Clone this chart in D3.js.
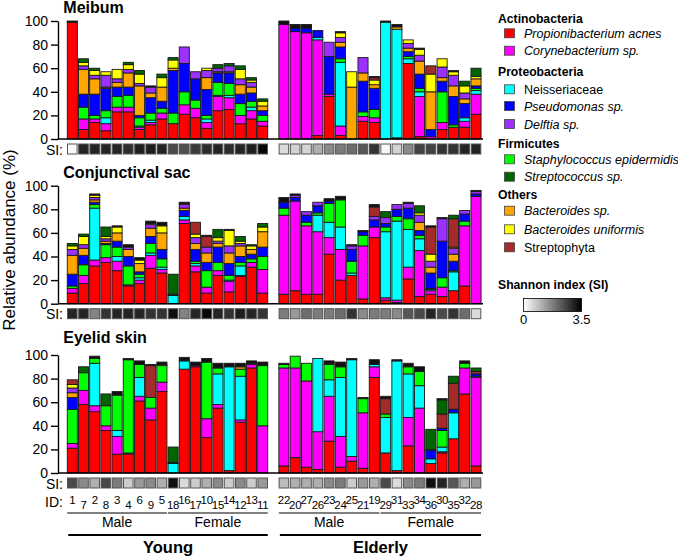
<!DOCTYPE html>
<html><head><meta charset="utf-8">
<script src="https://cdn.jsdelivr.net/npm/d3@7"></script>
<style>body{margin:0;background:#fff}svg{display:block;font-family:Arial,"Liberation Sans",sans-serif}</style>
</head><body><svg id="c" width="678" height="558"></svg>
<script>
// ---------- categories ----------
const youngIDs = ["1","7","2","8","3","4","6","9","5","18","16","17","10","15","14","12","13","11"];
const elderIDs = ["22","20","27","26","23","24","25","21","19","29","31","33","34","36","30","35","32","28"];
const sexLabels = ["Male","Female"];
const ageLabels = ["Young","Elderly"];
const panelNames = ["Meibum","Conjunctival sac","Eyelid skin"];
const yTicks = [0,20,40,60,80,100];
const siTicks = ["0","3.5"];

// stack order (bottom -> top)
const speciesKeys = ["pa","cory","neis","staph","pseudo","bact","delf","bunif","streptophyta","strep","other"];
const speciesColors = {pa:"#ff0000",cory:"#ff00ff",neis:"#00ffff",pseudo:"#0000ff",delf:"#9b30ff",staph:"#00ff00",strep:"#006400",bact:"#ffa500",bunif:"#ffff00",streptophyta:"#a52a2a",other:"#111111"};

// legend
const legendPhyla = ["Actinobacteria","Proteobacteria","Firmicutes","Others"];
const legendTaxa = [["pa","cory"],["neis","pseudo","delf"],["staph","strep"],["bact","bunif","streptophyta"]];
const taxonNames = {pa:"Propionibacterium acnes",cory:"Corynebacterium sp.",neis:"Neisseriaceae",pseudo:"Pseudomonas sp.",delf:"Delftia sp.",staph:"Staphylococcus epidermidis",strep:"Streptococcus sp.",bact:"Bacteroides sp.",bunif:"Bacteroides uniformis",streptophyta:"Streptophyta"};
const taxonItalic = {pa:true,cory:true,neis:false,pseudo:true,delf:true,staph:true,strep:true,bact:true,bunif:true,streptophyta:false};

// ---------- Meibum (young 18, elderly 18) ----------
const meibum_pa    = [99,8,14,7,23,23,8,12,17,13,21,18,9,24,25,13,17,11, 0,0,0,3,36,3,0,15,14,0,1,64,2,0,8,10,10,21];
const meibum_cory  = [0,9,3,6,4,4,2,2,5,0,8,8,5,12,10,7,7,4, 97,91,90,81,2,8,0,4,4,0,0,0,34,2,6,0,5,17];
const meibum_neis  = [0,0,0,5,0,0,1,2,0,0,0,0,3,1,2,0,3,0, 0,0,0,2,0,54,0,0,0,99,92,4,4,0,0,0,3,3];
const meibum_staph = [0,10,3,6,9,10,7,6,4,9,11,7,3,11,10,10,5,5, 0,0,0,0,0,3,0,4,7,0,0,2,3,0,26,2,0,2];
const meibum_pseudo= [0,11,18,19,8,7,2,13,6,36,24,18,22,8,9,8,7,4, 0,3,4,6,32,10,0,26,18,0,0,4,12,6,9,24,12,2];
const meibum_bact  = [0,21,13,1,4,12,25,4,12,2,0,0,10,1,1,8,5,4, 0,0,0,0,0,4,44,7,3,0,2,3,11,32,3,9,4,6];
const meibum_delf  = [0,3,3,10,3,3,2,5,0,0,14,6,6,3,5,5,4,0, 0,0,0,0,12,4,0,13,0,0,0,4,5,0,9,9,5,0];
const meibum_bunif = [0,3,4,3,8,4,8,0,8,7,0,0,2,0,0,8,2,4, 0,0,0,0,0,4,13,0,4,0,0,3,5,15,7,3,6,2];
const meibum_streptophyta = [0,0,0,0,0,0,0,0,0,0,0,0,0,0,0,0,0,0, 0,0,0,0,0,0,0,0,2,0,0,0,0,7,0,0,0,0];
const meibum_strep = [0,3,2,0,0,2,3,0,3,2,0,0,0,3,2,3,2,2, 0,0,0,0,0,0,0,0,0,0,0,0,0,0,0,0,4,7];
const meibum_other = [1,0,0,0,0,0,0,1,0,0,0,0,0,0,0,0,0,0, 3,3,3,0,0,1,0,0,1,1,2,0,1,0,0,1,0,0];
const meibum_SI    = [0.1,3.0,3.0,3.0,3.0,2.9,3.1,3.1,3.0,2.5,2.4,2.7,2.9,3.0,2.9,3.0,3.1,3.4, 0.5,0.6,0.6,1.1,1.6,1.8,2.0,2.3,2.8,0.1,0.6,1.6,2.6,2.6,2.8,2.8,3.0,3.0];

// ---------- Conjunctival sac ----------
const conj_pa    = [9,17,32,35,28,15,17,30,26,0,68,27,9,24,10,23,31,9, 8,11,8,8,42,20,24,4,56,3,1,21,6,8,6,11,15,0];
const conj_cory  = [4,7,5,4,8,1,3,11,3,0,3,5,5,4,9,1,4,20, 67,76,58,53,14,26,0,45,9,2,2,10,39,3,8,0,51,91];
const conj_neis  = [0,0,44,0,4,0,2,2,2,7,3,2,0,0,1,8,0,0, 0,0,0,14,13,19,2,0,0,56,67,32,10,1,0,16,0,0];
const conj_staph = [2,9,3,11,8,16,3,8,7,0,0,2,14,7,4,3,3,11, 6,0,3,2,16,23,10,9,0,4,4,9,3,1,8,1,4,0];
const conj_pseudo= [10,8,2,1,5,8,2,6,8,1,5,10,7,13,10,5,4,8, 5,3,6,6,2,0,10,3,6,3,6,9,4,13,31,8,6,2];
const conj_bact  = [16,6,2,2,7,6,7,7,14,0,2,5,8,3,9,9,4,13, 0,0,0,0,0,0,0,0,0,0,0,0,7,5,0,6,0,0];
const conj_delf  = [5,3,2,2,0,2,0,3,0,0,3,5,5,2,6,2,0,0, 0,2,3,3,0,0,3,0,3,5,4,4,6,5,19,5,3,2];
const conj_bunif = [3,7,2,2,5,0,3,1,6,0,1,3,0,3,13,2,3,4, 0,0,0,0,0,0,0,0,0,0,0,0,2,6,0,1,0,0];
const conj_streptophyta = [0,0,0,0,0,0,0,0,0,0,0,10,9,0,0,0,0,0, 0,0,0,0,0,0,0,0,8,0,0,0,0,23,0,24,0,0];
const conj_strep = [2,2,0,8,0,0,0,0,0,17,0,0,0,7,0,4,1,3, 0,0,0,0,0,0,0,0,0,5,0,0,6,0,0,3,0,0];
const conj_other = [0,0,1,0,1,2,2,2,3,0,1,0,1,0,1,0,0,0, 4,1,0,0,2,3,1,1,2,0,0,1,0,1,1,0,0,1];
const conj_SI    = [3.0,3.0,1.7,2.8,3.0,3.0,3.0,2.8,2.8,3.3,1.7,3.0,3.4,3.0,2.8,3.1,3.0,2.8, 1.8,1.4,2.0,1.8,1.8,2.0,2.8,1.6,1.8,1.8,1.6,2.3,2.5,3.0,2.5,2.8,2.0,0.5];

// ---------- Eyelid skin ----------
const eyelid_pa    = [21,58,52,36,16,16,61,45,69,0,88,90,30,55,2,43,89,0, 6,13,5,3,27,5,10,4,81,17,2,23,0,8,17,29,67,6];
const eyelid_cory  = [4,12,5,4,15,1,4,10,8,0,0,1,16,3,0,2,3,40, 83,76,73,32,38,26,4,47,9,0,0,24,55,0,1,0,22,75];
const eyelid_neis  = [0,0,36,0,5,0,16,0,0,8,7,0,0,26,88,37,0,0, 0,0,0,62,14,50,82,0,2,30,93,37,19,4,4,22,0,1];
const eyelid_staph = [29,15,4,17,30,79,11,9,14,0,0,0,48,5,0,6,1,51, 3,10,15,0,13,9,0,12,0,3,0,6,12,0,14,0,4,0];
const eyelid_pseudo= [10,0,0,0,0,0,0,0,0,1,0,0,0,0,0,0,0,0, 0,0,0,0,0,0,0,0,0,0,0,0,0,7,2,3,0,2];
const eyelid_bact  = [4,0,0,0,0,0,0,0,1,0,0,0,0,0,0,2,0,0, 0,0,0,0,0,0,0,0,0,0,0,0,0,0,0,0,0,0];
const eyelid_delf  = [4,0,0,0,0,0,0,0,0,0,0,0,0,0,0,0,0,0, 0,0,0,0,0,0,0,0,0,0,0,0,0,1,0,0,0,0];
const eyelid_bunif = [3,0,0,0,0,0,0,0,0,0,0,0,0,0,0,0,0,0, 0,0,0,0,0,0,0,0,0,0,0,0,0,0,0,0,0,0];
const eyelid_streptophyta = [4,0,0,0,0,0,0,27,0,0,0,0,0,0,0,0,0,0, 0,0,0,0,1,0,0,0,0,13,0,0,0,0,12,22,0,2];
const eyelid_strep = [0,5,0,10,0,0,0,0,0,13,0,0,0,0,0,0,0,0, 0,0,0,0,0,0,0,0,0,0,0,0,0,17,12,6,0,3];
const eyelid_other = [0,0,2,0,3,1,3,1,2,0,3,3,3,4,3,3,2,3, 1,0,0,0,2,4,1,1,4,2,1,3,4,0,1,0,2,0];
const eyelid_SI    = [2.5,1.6,1.1,2.5,1.8,0.7,1.4,1.6,1.1,3.3,0.5,0.7,1.1,1.6,0.7,1.6,0.7,1.4, 0.9,1.1,1.1,1.1,1.6,1.8,0.7,1.4,1.1,2.5,0.5,1.6,1.8,3.3,3.0,2.3,1.1,1.4];

// ---------- build tables ----------
const allIDs = youngIDs.concat(elderIDs);
function buildRows(src){
  return allIDs.map((id,i)=>{const r={id:id,idx:i};speciesKeys.forEach(k=>r[k]=src[k][i]);return r;});
}
const panels = [
  {name:panelNames[0], top:21, rows:buildRows({pa:meibum_pa,cory:meibum_cory,neis:meibum_neis,staph:meibum_staph,pseudo:meibum_pseudo,bact:meibum_bact,delf:meibum_delf,bunif:meibum_bunif,streptophyta:meibum_streptophyta,strep:meibum_strep,other:meibum_other}), si:meibum_SI, titleY:13},
  {name:panelNames[1], top:185.7, rows:buildRows({pa:conj_pa,cory:conj_cory,neis:conj_neis,staph:conj_staph,pseudo:conj_pseudo,bact:conj_bact,delf:conj_delf,bunif:conj_bunif,streptophyta:conj_streptophyta,strep:conj_strep,other:conj_other}), si:conj_SI, titleY:178.3},
  {name:panelNames[2], top:355, rows:buildRows({pa:eyelid_pa,cory:eyelid_cory,neis:eyelid_neis,staph:eyelid_staph,pseudo:eyelid_pseudo,bact:eyelid_bact,delf:eyelid_delf,bunif:eyelid_bunif,streptophyta:eyelid_streptophyta,strep:eyelid_strep,other:eyelid_other}), si:eyelid_SI, titleY:342.7}
];
const panelH = 118;

const svg = d3.select("#c");
const xY = d3.scaleBand().domain(youngIDs).range([66.7,268.3]).paddingInner(0.1).paddingOuter(0.05);
const xE = d3.scaleBand().domain(elderIDs).range([278.3,481.7]).paddingInner(0.1).paddingOuter(0.05);
const xs = (i)=> i<18 ? xY(allIDs[i]) : xE(allIDs[i]);
const bw = xY.bandwidth();
const stepY = xY.step(), stepE = xE.step();
const center = (i)=> xs(i)+bw/2;
const siColor = d3.scaleLinear().domain([0,3.5]).range(["#ffffff","#000000"]);
const axisX = 58;

panels.forEach(p=>{
  const y = d3.scaleLinear().domain([0,100]).range([p.top+panelH,p.top]);
  const g = svg.append("g");
  // title
  g.append("text").attr("x",63.3).attr("y",p.titleY).attr("font-size",16).attr("font-weight","bold").text(p.name);
  // stacked bars
  const stacked = d3.stack().keys(speciesKeys)(p.rows);
  stacked.forEach(layer=>{
    g.append("g").selectAll("rect").data(layer.filter(d=>d[1]-d[0]>0)).join("rect")
      .attr("x",d=>xs(d.data.idx)).attr("width",bw)
      .attr("y",d=>y(d[1])).attr("height",d=>y(d[0])-y(d[1]))
      .attr("fill",speciesColors[layer.key]).attr("stroke","#1a1a1a").attr("stroke-width",0.9);
  });
  // axis
  const ax = g.append("g").attr("transform",`translate(${axisX},0)`)
    .call(d3.axisLeft(y).tickValues(yTicks).tickSize(7).tickSizeOuter(0).tickPadding(3));
  ax.selectAll("text").attr("font-size",14).attr("font-family","Arial,'Liberation Sans',sans-serif").attr("fill","#000");
  ax.selectAll("line,path").attr("stroke","#000").attr("stroke-width",1.4);
  // baseline
  g.append("line").attr("x1",axisX).attr("x2",483).attr("y1",y(0)).attr("y2",y(0)).attr("stroke","#000").attr("stroke-width",1.5);
  // SI row
  g.append("text").attr("x",63).attr("y",y(0)+15.5).attr("text-anchor","end").attr("font-size",14).text("SI:");
  g.append("g").selectAll("rect").data(p.si).join("rect")
    .attr("x",(d,i)=>center(i)-4.8).attr("width",9.6).attr("y",y(0)+5).attr("height",10)
    .attr("fill",d=>siColor(d)).attr("stroke","#555").attr("stroke-width",1);
});

// y label
svg.append("text").attr("transform","translate(15,240) rotate(-90)").attr("text-anchor","middle").attr("font-size",17).text("Relative abundance (%)");

// ID row
svg.append("text").attr("x",63).attr("y",506.5).attr("text-anchor","end").attr("font-size",14).text("ID:");
svg.append("g").selectAll("text").data(allIDs).join("text")
  .attr("x",(d,i)=>center(i)).attr("y",(d,i)=> i%2===0 ? 503.5 : 508.5)
  .attr("text-anchor","middle").attr("font-size",11.5).attr("letter-spacing",-0.3).text(d=>d);

// sex groups & age groups
const groups = [[0,8],[9,17],[18,26],[27,35]];
groups.forEach((gr,k)=>{
  const x1 = xs(gr[0]), x2 = xs(gr[1])+bw;
  svg.append("line").attr("x1",x1).attr("x2",x2).attr("y1",513).attr("y2",513).attr("stroke","#000").attr("stroke-width",1);
  svg.append("text").attr("x",(x1+x2)/2).attr("y",527).attr("text-anchor","middle").attr("font-size",14).text(sexLabels[k%2]);
});
[[0,17],[18,35]].forEach((gr,k)=>{
  const x1 = xs(gr[0])+1, x2 = xs(gr[1])+bw;
  svg.append("line").attr("x1",x1).attr("x2",x2).attr("y1",535).attr("y2",535).attr("stroke","#000").attr("stroke-width",2);
  svg.append("text").attr("x",(x1+x2)/2).attr("y",553).attr("text-anchor","middle").attr("font-size",16.5).attr("font-weight","bold").text(ageLabels[k]);
});

// legend
const phylumY = [18.3,71.7,143.3,195];
const itemY = [[33.3,50.7],[89.3,106,124],[159.3,176.7],[210.7,229.3,247.3]];
const lg = svg.append("g");
legendPhyla.forEach((ph,k)=>{
  lg.append("text").attr("x",498).attr("y",phylumY[k]+4.3).attr("font-size",12.2).attr("font-weight","bold").text(ph);
  legendTaxa[k].forEach((t,j)=>{
    const cy = itemY[k][j];
    lg.append("rect").attr("x",504.5).attr("y",cy-4.5).attr("width",10).attr("height",9)
      .attr("fill",speciesColors[t]).attr("stroke","#444").attr("stroke-width",0.8);
    lg.append("text").attr("x",524).attr("y",cy+4.5).attr("font-size",12.5)
      .attr("font-style",taxonItalic[t]?"italic":"normal").text(taxonNames[t]);
  });
});
lg.append("text").attr("x",498).attr("y",288.5).attr("font-size",12.2).attr("font-weight","bold").text("Shannon index (SI)");
const defs = svg.append("defs");
const grad = defs.append("linearGradient").attr("id","sig");
grad.append("stop").attr("offset","0%").attr("stop-color",siColor(0));
grad.append("stop").attr("offset","100%").attr("stop-color",siColor(3.5));
lg.append("rect").attr("x",523.5).attr("y",298.5).attr("width",58).attr("height",13).attr("fill","url(#sig)").attr("stroke","#000").attr("stroke-width",0.8);
const siX = d3.scaleLinear().domain([0,1]).range([523.5,581.5]);
siTicks.forEach((t,i)=>{
  lg.append("text").attr("x",siX(i)).attr("y",323.5).attr("text-anchor","middle").attr("font-size",13).text(t);
});
</script></body></html>
